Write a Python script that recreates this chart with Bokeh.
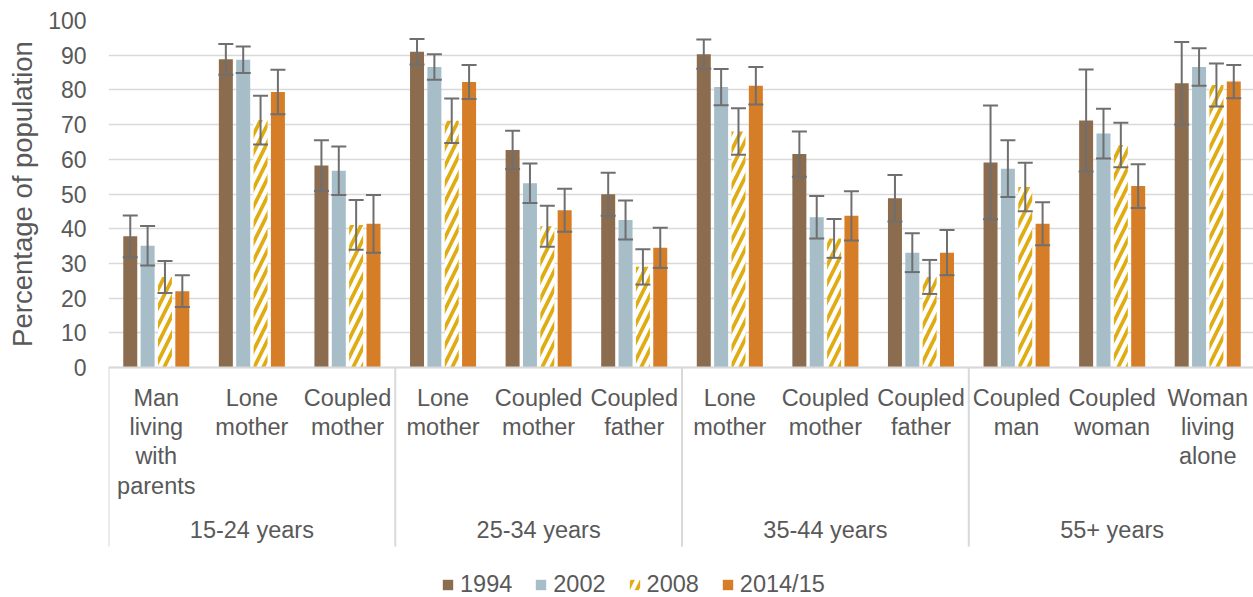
import numpy as np
from bokeh.plotting import figure
from bokeh.layouts import row
from bokeh.models import (ColumnDataSource, Range1d, FixedTicker, Whisker, TeeHead,
                          Legend, LegendItem, Span)
from bokeh.core.properties import value
from bokeh.embed import file_html
from bokeh.resources import INLINE

# ---------------- data ----------------
groups = ["15-24 years"] * 3 + ["25-34 years"] * 3 + ["35-44 years"] * 3 + ["55+ years"] * 3
categories = ["Man\nliving\nwith\nparents", "Lone\nmother", "Coupled\nmother",
              "Lone\nmother", "Coupled\nmother", "Coupled\nfather",
              "Lone\nmother", "Coupled\nmother", "Coupled\nfather",
              "Coupled\nman", "Coupled\nwoman", "Woman\nliving\nalone"]
series_names = ["1994", "2002", "2008", "2014/15"]

v1994 = [37.8, 88.8, 58.2, 91.0, 62.7, 49.9, 90.3, 61.5, 48.8, 59.1, 71.2, 81.9]
e1994 = [6.0, 4.4, 7.3, 3.7, 5.5, 6.2, 4.2, 6.5, 6.7, 16.4, 14.7, 11.9]
v2002 = [35.1, 88.7, 56.7, 86.6, 53.1, 42.5, 80.8, 43.3, 33.1, 57.3, 67.4, 86.6]
e2002 = [5.7, 3.8, 7.0, 3.7, 5.7, 5.6, 5.2, 6.1, 5.6, 8.2, 7.2, 5.4]
v2008 = [26.1, 71.3, 41.1, 71.1, 40.7, 29.0, 68.0, 37.2, 26.1, 52.0, 64.1, 81.4]
e2008 = [4.6, 7.0, 7.2, 6.4, 5.9, 5.1, 6.7, 5.6, 4.9, 7.0, 6.4, 6.2]
v2014 = [22.0, 79.4, 41.4, 82.3, 45.3, 34.5, 81.2, 43.7, 33.1, 41.4, 52.3, 82.4]
e2014 = [4.6, 6.4, 8.3, 4.9, 6.2, 5.8, 5.4, 7.1, 6.5, 6.2, 6.3, 4.8]

y_ticks = list(range(0, 101, 10))
y_title = "Percentage of population"

# ---------------- style / layout ----------------
FONT = "Liberation Sans"
TEXT = "#595959"
GRID = "#D9D9D9"
ERR = "#6F6F6F"
colors = ["#8B6C4E", "#A7BDC8", "#E0AC14", "#D67D27"]

TOTAL_W, H = 1253, 597
TITLE_W = 45
W = TOTAL_W - TITLE_W
FRAME_LEFT = 107          # absolute x of plot area
LEFT = FRAME_LEFT - TITLE_W
TOP = 20
BASE_Y = 367              # absolute y of the zero line
ppu = (BASE_Y - TOP) / 100.0
y_min = 100 - (H - TOP) / ppu
cat_px = 95.67
n = len(categories)
x_end = -0.5 + (TOTAL_W - FRAME_LEFT) / cat_px

def below(px):
    """data y for a distance in px under the zero line"""
    return -px / ppu

yr = Range1d(y_min, 100)

p = figure(width=W, height=H, x_range=Range1d(-0.5, x_end), y_range=yr,
           x_axis_type=None, output_backend="svg", toolbar_location=None,
           min_border_left=LEFT, min_border_right=0, min_border_top=TOP,
           min_border_bottom=0, title=None)
p.outline_line_color = None
p.background_fill_color = "white"
p.border_fill_color = "white"

yax = p.yaxis[0]
yax.ticker = FixedTicker(ticks=y_ticks)
yax.axis_line_color = None
yax.major_tick_line_color = None
yax.minor_tick_line_color = None
yax.major_tick_out = 0
yax.major_tick_in = 0
yax.major_label_standoff = 22
yax.major_label_text_font = FONT
yax.major_label_text_font_size = "23px"
yax.major_label_text_color = TEXT
p.ygrid.grid_line_color = GRID
p.ygrid.grid_line_width = 1.5

# ---------------- bars + error bars ----------------
step = 17.37 / cat_px
bw = 14.0 / cat_px
xs = np.arange(n)
vals = [v1994, v2002, v2008, v2014]
errs = [e1994, e2002, e2008, e2014]
renderers = []
for k, name in enumerate(series_names):
    v = np.array(vals[k])
    e = np.array(errs[k])
    src = ColumnDataSource(dict(x=xs + (k - 1.5) * step, top=v, upper=v + e, lower=v - e))
    if name == "2008":
        r = p.vbar(x="x", top="top", width=bw, source=src, fill_color="white",
                   line_color=None, hatch_pattern="/", hatch_color=colors[k],
                   hatch_scale=18, hatch_weight=3.8)
    else:
        r = p.vbar(x="x", top="top", width=bw, source=src, fill_color=colors[k],
                   line_color=None)
    renderers.append(r)
    wk = Whisker(source=src, base="x", upper="upper", lower="lower",
                 line_color=ERR, line_width=2, level="annotation",
                 upper_head=TeeHead(size=15, line_color=ERR, line_width=2),
                 lower_head=TeeHead(size=15, line_color=ERR, line_width=2))
    p.add_layout(wk)

# zero line
p.add_layout(Span(location=0, dimension="width", line_color=GRID, line_width=2))

# ---------------- two-level category axis ----------------
p.text(x=xs, y=[below(17)] * n, text=categories, text_align="center",
       text_baseline="top", text_font=value(FONT), text_font_size="23.5px",
       text_color=TEXT, text_line_height=1.13)

gnames = list(dict.fromkeys(groups))
gcent = [float(np.mean([i for i, g in enumerate(groups) if g == gn])) for gn in gnames]
p.text(x=gcent, y=[below(162)] * len(gnames), text=gnames, text_align="center",
       text_baseline="alphabetic", text_font=value(FONT), text_font_size="23.5px",
       text_color=TEXT)

bounds = [i - 0.5 for i in range(n) if i == 0 or groups[i] != groups[i - 1]] + [n - 0.5]
p.segment(x0=bounds, y0=[0] * len(bounds), x1=bounds, y1=[below(179)] * len(bounds),
          line_color=GRID, line_width=2)

# ---------------- legend ----------------
legend = Legend(items=[LegendItem(label=nm, renderers=[r]) for nm, r in zip(series_names, renderers)],
                orientation="horizontal", location=(440 - FRAME_LEFT, -1),
                glyph_width=13, glyph_height=13, label_standoff=6, spacing=22,
                padding=0, margin=0, border_line_color=None, background_fill_alpha=0,
                label_text_font=FONT, label_text_font_size="23.5px", label_text_color=TEXT,
                label_height=13)
p.add_layout(legend)

# ---------------- y-axis title (own narrow panel sharing the y scale) ----------------
t = figure(width=TITLE_W, height=H, x_range=Range1d(0, TITLE_W), y_range=yr,
           x_axis_type=None, y_axis_type=None, output_backend="svg", toolbar_location=None,
           min_border_left=0, min_border_right=0, min_border_top=TOP, min_border_bottom=0,
           title=None)
t.outline_line_color = None
t.grid.visible = False
t.text(x=[22], y=[(y_ticks[0] + y_ticks[-1]) / 2], text=[y_title], angle=np.pi / 2,
       text_align="center", text_baseline="middle", text_font=value(FONT),
       text_font_size="27.5px", text_color=TEXT)

layout = row(t, p, spacing=0)
open("out.html", "w").write(file_html(layout, INLINE))
